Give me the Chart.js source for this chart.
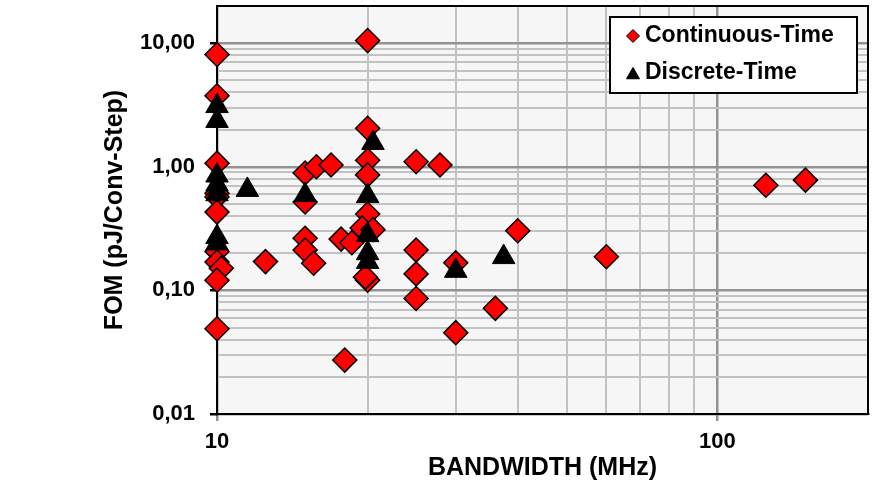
<!DOCTYPE html>
<html>
<head>
<meta charset="utf-8">
<script src="https://cdn.jsdelivr.net/npm/chart.js"></script>
<style>
  html, body { margin: 0; padding: 0; background: #fff; }
  #wrap { width: 878px; height: 484px; position: relative; }
</style>
</head>
<body>
<div id="wrap"><canvas id="fomChart"></canvas></div>
<script>
// Continuous-Time designs: bandwidth (MHz) and FOM (pJ/conv-step)
const ctBandwidth = [10, 10, 10, 10, 10, 10, 10, 10, 10.2, 10, 10,
  12.5, 15, 15, 15, 15, 15.6, 15.8, 16.9, 18, 17.7, 18.6,
  20, 20, 20, 20, 20, 19.5, 20.5, 20, 19.8,
  25, 25, 25, 25, 27.9, 30, 30, 36, 39.9, 60, 125, 150];
const ctFom = [8.1, 3.76, 1.07, 0.61, 0.57, 0.43, 0.206, 0.17, 0.151, 0.121, 0.049,
  0.171, 0.89, 0.52, 0.264, 0.212, 0.166, 1.0, 1.035, 0.0273, 0.26, 0.243,
  10.5, 2.05, 1.13, 0.86, 0.415, 0.32, 0.31, 0.121, 0.128,
  1.1, 0.212, 0.136, 0.086, 1.035, 0.167, 0.0455, 0.0716, 0.304, 0.187, 0.71, 0.78];

// Discrete-Time designs
const dtBandwidth = [10, 10, 10, 10, 10, 10, 10, 11.5, 15, 20.5, 20, 20, 20, 20, 30, 37.4];
const dtFom = [3.1, 2.35, 0.85, 0.72, 0.6, 0.27, 0.24, 0.65, 0.59, 1.56, 0.58, 0.28, 0.2, 0.17, 0.144, 0.186];

// axis ticks (log gridlines) and labels
const xTicks = [10, 20, 30, 40, 50, 60, 70, 80, 90, 100, 200];
const xMajor = [10, 100];
const xTickLabels = ['10', '100'];
const yTicks = [0.01, 0.02, 0.03, 0.04, 0.05, 0.06, 0.07, 0.08, 0.09,
  0.1, 0.2, 0.3, 0.4, 0.5, 0.6, 0.7, 0.8, 0.9,
  1, 2, 3, 4, 5, 6, 7, 8, 9, 10, 20];
const yMajor = [0.01, 0.1, 1, 10];
const yTickLabels = ['0,01', '0,10', '1,00', '10,00'];

const FONT = "'Liberation Sans', Arial, sans-serif";

const toPoints = (xs, ys) => xs.map((x, i) => ({ x: x, y: ys[i] }));
const isMajor = (v) => Math.abs(Math.log10(v) - Math.round(Math.log10(v))) < 1e-6;
const labelFor = (v, majors, labels) => {
    const i = majors.findIndex(m => Math.abs(m - v) / m < 1e-6);
    return i >= 0 ? labels[i] : '';
};

// plot background + frame
const plotFrame = {
    id: 'plotFrame',
    beforeDraw: (chart) => {
        const { ctx, chartArea: a } = chart;
        ctx.save();
        ctx.fillStyle = '#f6f6f6';
        ctx.fillRect(a.left, a.top, a.right - a.left, a.bottom - a.top);
        ctx.restore();
    },
    beforeDatasetsDraw: (chart) => {
        const { ctx, chartArea: a } = chart;
        ctx.save();
        ctx.strokeStyle = '#000';
        ctx.lineWidth = 2;
        ctx.strokeRect(a.left, a.top, a.right - a.left, a.bottom - a.top);
        ctx.restore();
    }
};

// legend box drawn inside the plot, top right
const insideLegend = {
    id: 'insideLegend',
    afterDraw: (chart) => {
        const { ctx, chartArea: a } = chart;
        const bx = a.right - 258, by = a.top + 11, bw = 247, bh = 76;
        ctx.save();
        ctx.fillStyle = '#fff';
        ctx.fillRect(bx, by, bw, bh);
        ctx.strokeStyle = '#000';
        ctx.lineWidth = 2;
        ctx.strokeRect(bx, by, bw, bh);
        ctx.font = 'bold 23px ' + FONT;
        ctx.textBaseline = 'middle';
        chart.data.datasets.forEach((ds) => {
            const rowY = by + 19 + ds.legendRow * 37;
            const tri = ds.pointStyle === 'triangle';
            ctx.fillStyle = ds.backgroundColor;
            ctx.strokeStyle = '#000';
            ctx.lineWidth = 1;
            Chart.helpers.drawPoint(ctx, {
                pointStyle: ds.pointStyle,
                radius: tri ? 7.5 : 6.5,
                borderWidth: 1
            }, bx + 23, rowY + (tri ? 2 : 0));
            ctx.fillStyle = '#000';
            ctx.fillText(ds.label, bx + 35, rowY);
        });
        ctx.restore();
    }
};

const gridColor = (c) => isMajor(c.tick.value) ? '#939393' : '#c2c2c2';
const gridWidth = (c) => isMajor(c.tick.value) ? 2.5 : 2;

new Chart(document.getElementById('fomChart'), {
    type: 'scatter',
    plugins: [plotFrame, insideLegend],
    data: {
        datasets: [
            {
                label: 'Discrete-Time',
                data: toPoints(dtBandwidth, dtFom),
                pointStyle: 'triangle',
                pointRadius: 13,
                backgroundColor: '#000000',
                borderColor: '#000000',
                borderWidth: 1,
                clip: false,
                order: 1,
                legendRow: 1
            },
            {
                label: 'Continuous-Time',
                data: toPoints(ctBandwidth, ctFom),
                pointStyle: 'rectRot',
                pointRadius: 12,
                backgroundColor: '#ff0000',
                borderColor: '#000000',
                borderWidth: 1.5,
                clip: false,
                order: 2,
                legendRow: 0
            }
        ]
    },
    options: {
        responsive: true,
        maintainAspectRatio: false,
        animation: false,
        events: [],
        layout: { autoPadding: false, padding: { left: 97, right: 10, top: 6, bottom: 0 } },
        plugins: {
            legend: { display: false },
            tooltip: { enabled: false }
        },
        scales: {
            x: {
                type: 'logarithmic',
                min: 10,
                max: 200,
                afterBuildTicks: (s) => { s.ticks = xTicks.map(v => ({ value: v })); },
                afterFit: (s) => { s.height = 70; s.paddingLeft = 0; s.paddingRight = 0; },
                border: { color: '#000', width: 2 },
                grid: {
                    color: gridColor,
                    lineWidth: gridWidth,
                    tickColor: (c) => isMajor(c.tick.value) ? '#939393' : 'rgba(0,0,0,0)',
                    tickLength: 7
                },
                ticks: {
                    autoSkip: false,
                    maxRotation: 0,
                    padding: 8,
                    color: '#000',
                    font: { family: FONT, size: 22, weight: 'bold' },
                    callback: (v) => labelFor(v, xMajor, xTickLabels)
                },
                title: {
                    display: true,
                    text: 'BANDWIDTH (MHz)',
                    color: '#000',
                    font: { family: FONT, size: 25, weight: 'bold' },
                    padding: { top: 2, bottom: 1 }
                }
            },
            y: {
                type: 'logarithmic',
                min: 0.01,
                max: 20,
                afterBuildTicks: (s) => { s.ticks = yTicks.map(v => ({ value: v })); },
                afterFit: (s) => { s.width = 120; s.paddingTop = 0; s.paddingBottom = 0; },
                border: { color: '#000', width: 2 },
                grid: {
                    color: gridColor,
                    lineWidth: gridWidth,
                    tickColor: (c) => isMajor(c.tick.value) ? '#000' : 'rgba(0,0,0,0)',
                    tickLength: 7
                },
                ticks: {
                    autoSkip: false,
                    padding: 15,
                    color: '#000',
                    font: { family: FONT, size: 22, weight: 'bold' },
                    callback: (v) => labelFor(v, yMajor, yTickLabels)
                },
                title: {
                    display: true,
                    text: 'FOM (pJ/Conv-Step)',
                    color: '#000',
                    font: { family: FONT, size: 25, weight: 'bold' },
                    padding: { top: 3, bottom: 0 }
                }
            }
        }
    }
});
</script>
</body>
</html>
